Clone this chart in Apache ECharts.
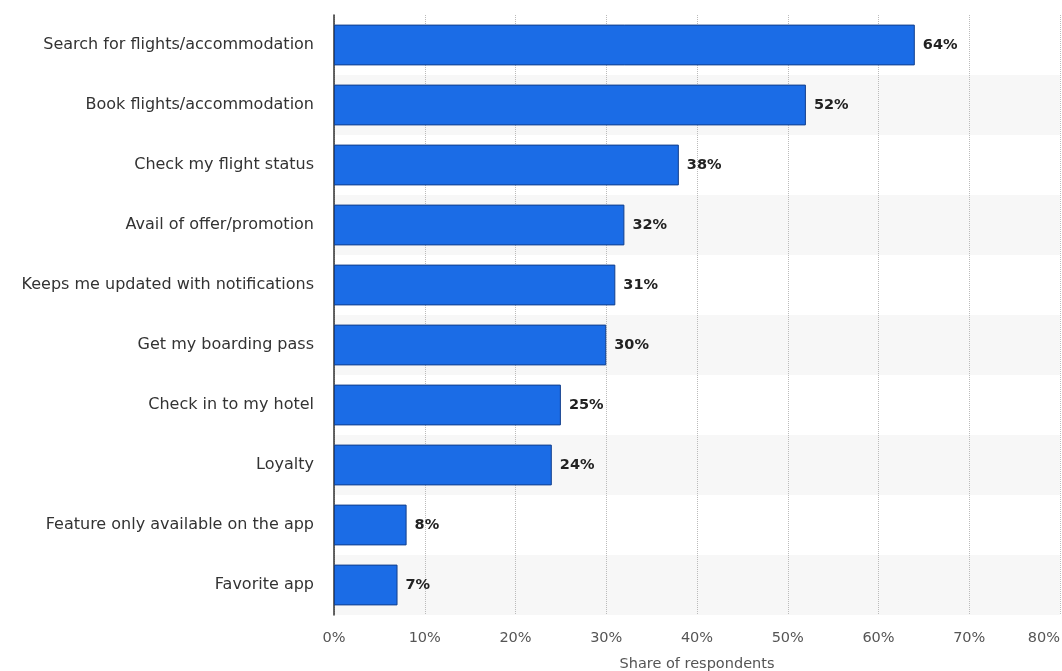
<!DOCTYPE html>
<html>
<head>
<meta charset="utf-8">
<script src="https://cdn.jsdelivr.net/npm/echarts@6/dist/echarts.min.js"></script>
<style>
  html, body { margin: 0; padding: 0; background: #ffffff; }
  #chart { width: 1062px; height: 671px; }
</style>
</head>
<body>
<div id="chart"></div>
<script>
// categories, top to bottom
var categories = [
  "Search for flights/accommodation",
  "Book flights/accommodation",
  "Check my flight status",
  "Avail of offer/promotion",
  "Keeps me updated with notifications",
  "Get my boarding pass",
  "Check in to my hotel",
  "Loyalty",
  "Feature only available on the app",
  "Favorite app"
];
// share of respondents (%)
var shares = [64, 52, 38, 32, 31, 30, 25, 24, 8, 7];
var xTicks = { min: 0, max: 80, interval: 10 };

var chart = echarts.init(document.getElementById("chart"));
chart.setOption({
  backgroundColor: "#ffffff",
  animation: false,
  grid: { left: 334, right: 2, top: 15, bottom: 56, containLabel: false, outerBoundsMode: "none" },
  xAxis: {
    type: "value",
    min: xTicks.min,
    max: xTicks.max,
    interval: xTicks.interval,
    name: "Share of respondents",
    nameLocation: "middle",
    nameGap: 42,
    nameTextStyle: { color: "#555", fontSize: 14.5, fontFamily: "DejaVu Sans" },
    axisLine: { show: false },
    axisTick: { show: false },
    axisLabel: {
      color: "#555",
      fontSize: 14.5,
      fontFamily: "DejaVu Sans",
      margin: 16,
      alignMaxLabel: "right",
      formatter: "{value}%"
    },
    splitLine: { show: true, lineStyle: { color: "#bbbbbb", type: "dotted", width: 1 } }
  },
  yAxis: {
    type: "category",
    inverse: true,
    data: categories,
    axisLine: { show: true, lineStyle: { color: "#333", width: 1.5 } },
    axisTick: { show: false },
    axisLabel: { color: "#333", fontSize: 16, fontFamily: "DejaVu Sans", margin: 20 },
    splitArea: { show: true, areaStyle: { color: ["#ffffff", "#f7f7f7"] } }
  },
  series: [{
    type: "bar",
    data: shares,
    barCategoryGap: "32%",
    itemStyle: { color: "#1b6ce6", borderColor: "#123f8c", borderWidth: 1 },
    label: {
      show: true,
      position: "right",
      distance: 8,
      formatter: "{c}%",
      color: "#222",
      fontWeight: "bold",
      fontSize: 14.5,
      fontFamily: "DejaVu Sans"
    }
  }]
});
</script>
</body>
</html>
